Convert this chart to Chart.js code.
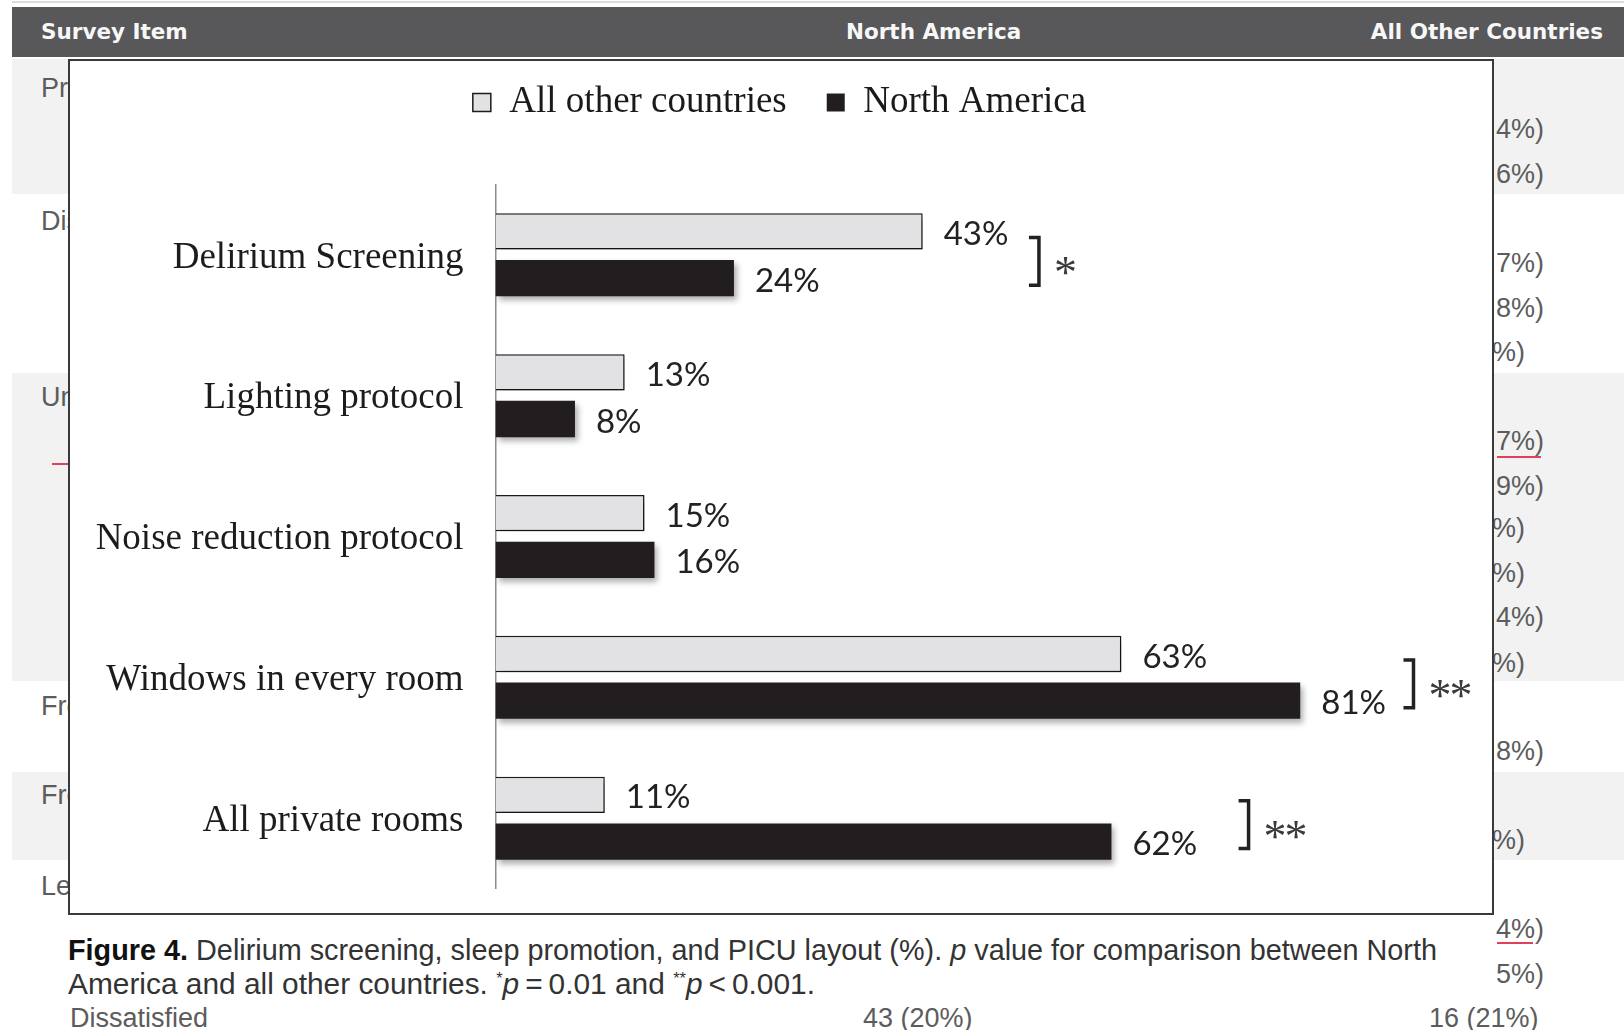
<!DOCTYPE html>
<html>
<head>
<meta charset="utf-8">
<script src="https://cdn.jsdelivr.net/npm/chart.js@4.4.1/dist/chart.umd.min.js"></script>
<style>
  html, body { margin: 0; padding: 0; }
  body { width: 1624px; height: 1030px; position: relative; overflow: hidden; background: #fff;
         font-family: "Liberation Sans", Arial, sans-serif; }
  .abs { position: absolute; white-space: nowrap; }
  .topline { left: 12px; top: 1px; width: 1612px; height: 2px; background: #dcdcdc; }
  .hdr { left: 12px; top: 7px; width: 1612px; height: 50px; background: #58585a; }
  .hdr span { position: absolute; top: 0; line-height: 50px; color: #f7f7f7;
              font-family: "DejaVu Sans", sans-serif; font-weight: bold; font-size: 21.5px; }
  .row { left: 12px; width: 1612px; background: #f2f2f2; }
  .cell { font-size: 27px; color: #5c5c5c; line-height: 30px; }
  .red { background: #e0405a; height: 2px; }
  #box { position: absolute; left: 68px; top: 59px; width: 1422px; height: 852px;
         border: 2px solid #3a3a3a; background: #fff; z-index: 2; }
  .cap { font-size: 29px; color: #333; line-height: 34px; z-index: 3; }
  .cap b { color: #111; }
  .cap sup { font-size: 16px; vertical-align: 10px; line-height: 0; }
</style>
</head>
<body>
<div class="abs topline"></div>
<div class="abs hdr">
  <span style="left:29px">Survey Item</span>
  <span style="left:834px">North America</span>
  <span style="right:21px">All Other Countries</span>
</div>

<!-- shaded table rows behind the figure -->
<div class="abs row" style="top:59px;height:135px"></div>
<div class="abs row" style="top:373px;height:308px"></div>
<div class="abs row" style="top:772px;height:88px"></div>

<!-- left column fragments (covered by figure) -->
<div class="abs cell" style="left:41px;top:73px">Preferences</div>
<div class="abs cell" style="left:41px;top:206px">Discharge</div>
<div class="abs cell" style="left:41px;top:382px">Unit</div>
<div class="abs red" style="left:52px;top:463px;width:20px"></div>
<div class="abs cell" style="left:41px;top:691px">Frequency</div>
<div class="abs cell" style="left:41px;top:780px">Frequency</div>
<div class="abs cell" style="left:41px;top:871px">Level</div>

<!-- right column fragments -->
<div class="abs cell" style="left:1496px;top:114px">4%)</div>
<div class="abs cell" style="left:1496px;top:159px">6%)</div>
<div class="abs cell" style="left:1496px;top:248px">7%)</div>
<div class="abs cell" style="left:1496px;top:293px">8%)</div>
<div class="abs cell" style="left:1492px;top:337px">%)</div>
<div class="abs cell" style="left:1496px;top:426px">7%)</div>
<div class="abs red" style="left:1497px;top:456px;width:44px"></div>
<div class="abs cell" style="left:1496px;top:471px">9%)</div>
<div class="abs cell" style="left:1492px;top:513px">%)</div>
<div class="abs cell" style="left:1492px;top:558px">%)</div>
<div class="abs cell" style="left:1496px;top:602px">4%)</div>
<div class="abs cell" style="left:1492px;top:648px">%)</div>
<div class="abs cell" style="left:1496px;top:736px">8%)</div>
<div class="abs cell" style="left:1492px;top:825px">%)</div>
<div class="abs cell" style="left:1496px;top:914px">4%)</div>
<div class="abs red" style="left:1497px;top:942px;width:36px"></div>
<div class="abs cell" style="left:1496px;top:959px">5%)</div>

<div id="box"><canvas id="chart"></canvas></div>

<div id="cap1" class="abs cap" style="left:68px;top:933px"><b>Figure 4.</b> Delirium screening, sleep promotion, and PICU layout (%). <i>p</i> value for comparison between North</div>
<div id="cap2" class="abs cap" style="left:68px;top:967px">America and all other countries. <sup>*</sup><i>p</i>&#8201;=&#8201;0.01 and <sup>**</sup><i>p</i>&#8201;&lt;&#8201;0.001.</div>

<div class="abs cell" style="left:70px;top:1003px">Dissatisfied</div>
<div class="abs cell" style="left:863px;top:1003px">43 (20%)</div>
<div class="abs cell" style="left:1429px;top:1003px">16 (21%)</div>

<script>
// ---- data ----
const categories = ["Delirium Screening", "Lighting protocol", "Noise reduction protocol", "Windows in every room", "All private rooms"];
const seriesNames = ["All other countries", "North America"];
const otherCountries = [43, 13, 15, 63, 11];
const northAmerica = [24, 8, 16, 81, 62];
const significance = ["*", "", "", "**", "**"];

// fit caption lines to the reference widths
function fitWidth(id, w) {
  const el = document.getElementById(id);
  el.style.display = 'inline-block';
  const nat = el.getBoundingClientRect().width;
  el.style.transformOrigin = '0 50%';
  el.style.transform = 'scaleX(' + (w / nat) + ')';
}
fitWidth('cap1', 1369);
fitWidth('cap2', 747);

const legendShift = {
  id: 'legendShift',
  afterLayout(chart, args, opts) {
    const lg = chart.legend;
    if (lg) { lg.top += opts.dy; lg.bottom += opts.dy; }
  }
};

const shadowPlugin = {
  id: 'barShadow',
  beforeDatasetsDraw(chart) {
    const ctx = chart.ctx;
    ctx.save();
    ctx.shadowColor = 'rgba(0,0,0,0.32)';
    ctx.shadowBlur = 6;
    ctx.shadowOffsetX = 3;
    ctx.shadowOffsetY = 4;
  },
  afterDatasetsDraw(chart) {
    chart.ctx.restore();
  }
};

const valueLabels = {
  id: 'valueLabels',
  afterDatasetsDraw(chart, args, opts) {
    const ctx = chart.ctx;
    ctx.save();
    ctx.font = opts.font;
    ctx.fillStyle = opts.color;
    ctx.textAlign = 'left';
    ctx.textBaseline = 'middle';
    chart.data.datasets.forEach((ds, di) => {
      chart.getDatasetMeta(di).data.forEach((bar, i) => {
        ctx.fillText(ds.data[i] + '%', bar.x + opts.offset, bar.y + 3);
      });
    });
    ctx.restore();
  }
};

const sigBrackets = {
  id: 'sigBrackets',
  afterDatasetsDraw(chart, args, opts) {
    const ctx = chart.ctx;
    const xs = chart.scales.x;
    const m0 = chart.getDatasetMeta(0).data;
    const m1 = chart.getDatasetMeta(1).data;
    ctx.save();
    significance.forEach((sig, i) => {
      if (!sig) return;
      const x = xs.getPixelForValue(opts.at[i]);
      const top = m0[i].y + 6, bot = m1[i].y + 7;
      ctx.strokeStyle = opts.color;
      ctx.lineWidth = 3.5;
      ctx.lineJoin = 'miter';
      ctx.beginPath();
      ctx.moveTo(x - 10, top);
      ctx.lineTo(x, top);
      ctx.lineTo(x, bot);
      ctx.lineTo(x - 10, bot);
      ctx.stroke();
      ctx.font = opts.starFont;
      ctx.fillStyle = opts.starColor;
      ctx.textAlign = 'left';
      ctx.textBaseline = 'middle';
      const mid = (top + bot) / 2 + 15;
      for (let k = 0; k < sig.length; k++) {
        ctx.fillText('*', x + 15 + k * 21, mid);
      }
    });
    ctx.restore();
  }
};

new Chart(document.getElementById('chart'), {
  type: 'bar',
  data: {
    labels: categories,
    datasets: [
      { label: seriesNames[0], data: otherCountries, backgroundColor: '#e2e2e5', borderColor: '#1c1c1c', borderWidth: 1.5,
        barPercentage: 0.777, categoryPercentage: 0.663 },
      { label: seriesNames[1], data: northAmerica, backgroundColor: '#221e1f', borderColor: '#221e1f', borderWidth: 0,
        barPercentage: 0.777, categoryPercentage: 0.663 }
    ]
  },
  plugins: [legendShift, shadowPlugin, valueLabels, sigBrackets],
  options: {
    indexAxis: 'y',
    responsive: true,
    maintainAspectRatio: false,
    animation: false,
    layout: { padding: { top: 0, right: 3, bottom: 24.4, left: 0 } },
    scales: {
      x: {
        type: 'linear', position: 'top', min: 0, max: 100,
        ticks: { display: false }, grid: { display: false }, border: { display: false },
        afterFit(s) { s.height = 36.4; }
      },
      y: {
        type: 'category',
        ticks: { color: '#1c1c1c', padding: 24, labelOffset: 3, font: { family: "'Liberation Serif', 'Times New Roman', serif", size: 37 } },
        grid: { display: false },
        border: { display: true, color: '#8c8c8c', width: 1.5 },
        afterFit(s) { s.width = 425.5; s.paddingTop = 0; s.paddingBottom = 0; }
      }
    },
    plugins: {
      legend: {
        position: 'top',
        labels: {
          color: '#1a1a1a', boxWidth: 18, boxHeight: 18, padding: 40,
          font: { family: "'Liberation Serif', 'Times New Roman', serif", size: 37 }
        }
      },
      legendShift: { dy: -17 },
      tooltip: { enabled: false },
      valueLabels: { font: "33px Lato, 'Open Sans', sans-serif", color: '#222', offset: 21 },
      sigBrackets: { at: [54.7, null, null, 92.4, 75.8], color: '#222', starFont: "46px 'Liberation Serif', serif", starColor: '#3a3a3a' }
    }
  }
});
</script>
</body>
</html>
